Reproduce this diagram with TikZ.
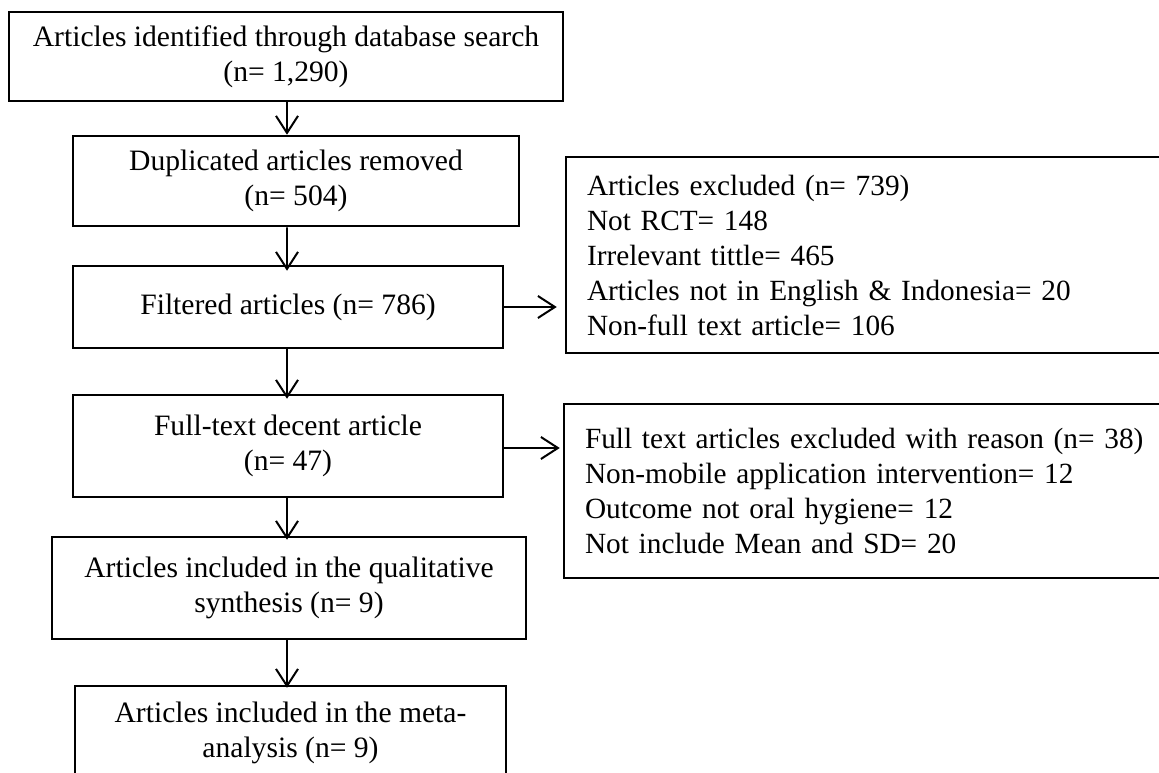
\documentclass[tikz,border=0pt]{standalone}
\usepackage{fontspec}
\setmainfont{Liberation Serif}
\usetikzlibrary{arrows.meta}
\begin{document}
\begin{tikzpicture}[x=1pt,y=-1pt,
  mainbox/.style={draw, line width=2.5pt, rectangle, align=center, inner sep=0pt,
    font=\fontsize{29.6}{35}\selectfont},
  exbox/.style={draw, line width=2.5pt, rectangle, align=left, inner ysep=0pt, inner xsep=21pt,
    text width=620pt, font=\fontsize{29.3}{35}\selectfont},
  flow/.style={line width=2pt, -{Straight Barb[length=17pt,width=22pt,line width=2pt]}}]
\path[use as bounding box, clip] (0,0) rectangle (1159,773);
\node[mainbox, minimum width=554pt, minimum height=89pt] (b1) at (286,56.5)
  {Articles identified through database search\\(n= 1,290)};
\node[mainbox, minimum width=446pt, minimum height=90pt] (b2) at (296,181)
  {Duplicated articles removed\\(n= 504)};
\node[mainbox, minimum width=430pt, minimum height=82pt] (b3) at (288,307)
  {Filtered articles (n= 786)};
\node[mainbox, minimum width=430pt, minimum height=102pt] (b4) at (288,446)
  {Full-text decent article\\(n= 47)};
\node[mainbox, minimum width=474pt, minimum height=102pt] (b5) at (289,588)
  {Articles included in the qualitative\\synthesis (n= 9)};
\node[mainbox, minimum width=431pt, minimum height=94pt] (b6) at (290.5,733)
  {Articles included in the meta-\\analysis (n= 9)};
\node[exbox, minimum height=196pt] (e1) at (897,255)
  {Articles excluded (n= 739)\\Not RCT= 148\\Irrelevant tittle= 465\\Articles not in English \& Indonesia= 20\\Non-full text article= 106};
\node[exbox, minimum height=174pt] (e2) at (895,491)
  {Full text articles excluded with reason (n= 38)\\Non-mobile application intervention= 12\\Outcome not oral hygiene= 12\\Not include Mean and SD= 20};
\coordinate (a1s) at ([yshift=-9pt]b1.south -| 287,0);
\coordinate (a2s) at ([yshift=-8pt]b2.south -| 287,0);
\draw[flow] (a1s) -- (b1.south -| 287,0) -- (b2.north -| 287,0);
\draw[flow] (a2s) -- (b2.south -| 287,0) -- ([yshift=-6pt]b3.north -| 287,0);
\draw[flow] (b3.south -| 287,0) -- ([yshift=-5pt]b4.north -| 287,0);
\draw[flow] (b4.south -| 287,0) -- ([yshift=-4pt]b5.north -| 287,0);
\draw[flow] (b5.south -| 287,0) -- ([yshift=-3pt]b6.north -| 287,0);
\draw[flow] (b3.east) -- ([xshift=-8pt]e1.west |- b3.east);
\draw[flow] (b4.east |- 0,448) -- ([xshift=-3pt]e2.west |- 0,448);
\end{tikzpicture}
\end{document}
